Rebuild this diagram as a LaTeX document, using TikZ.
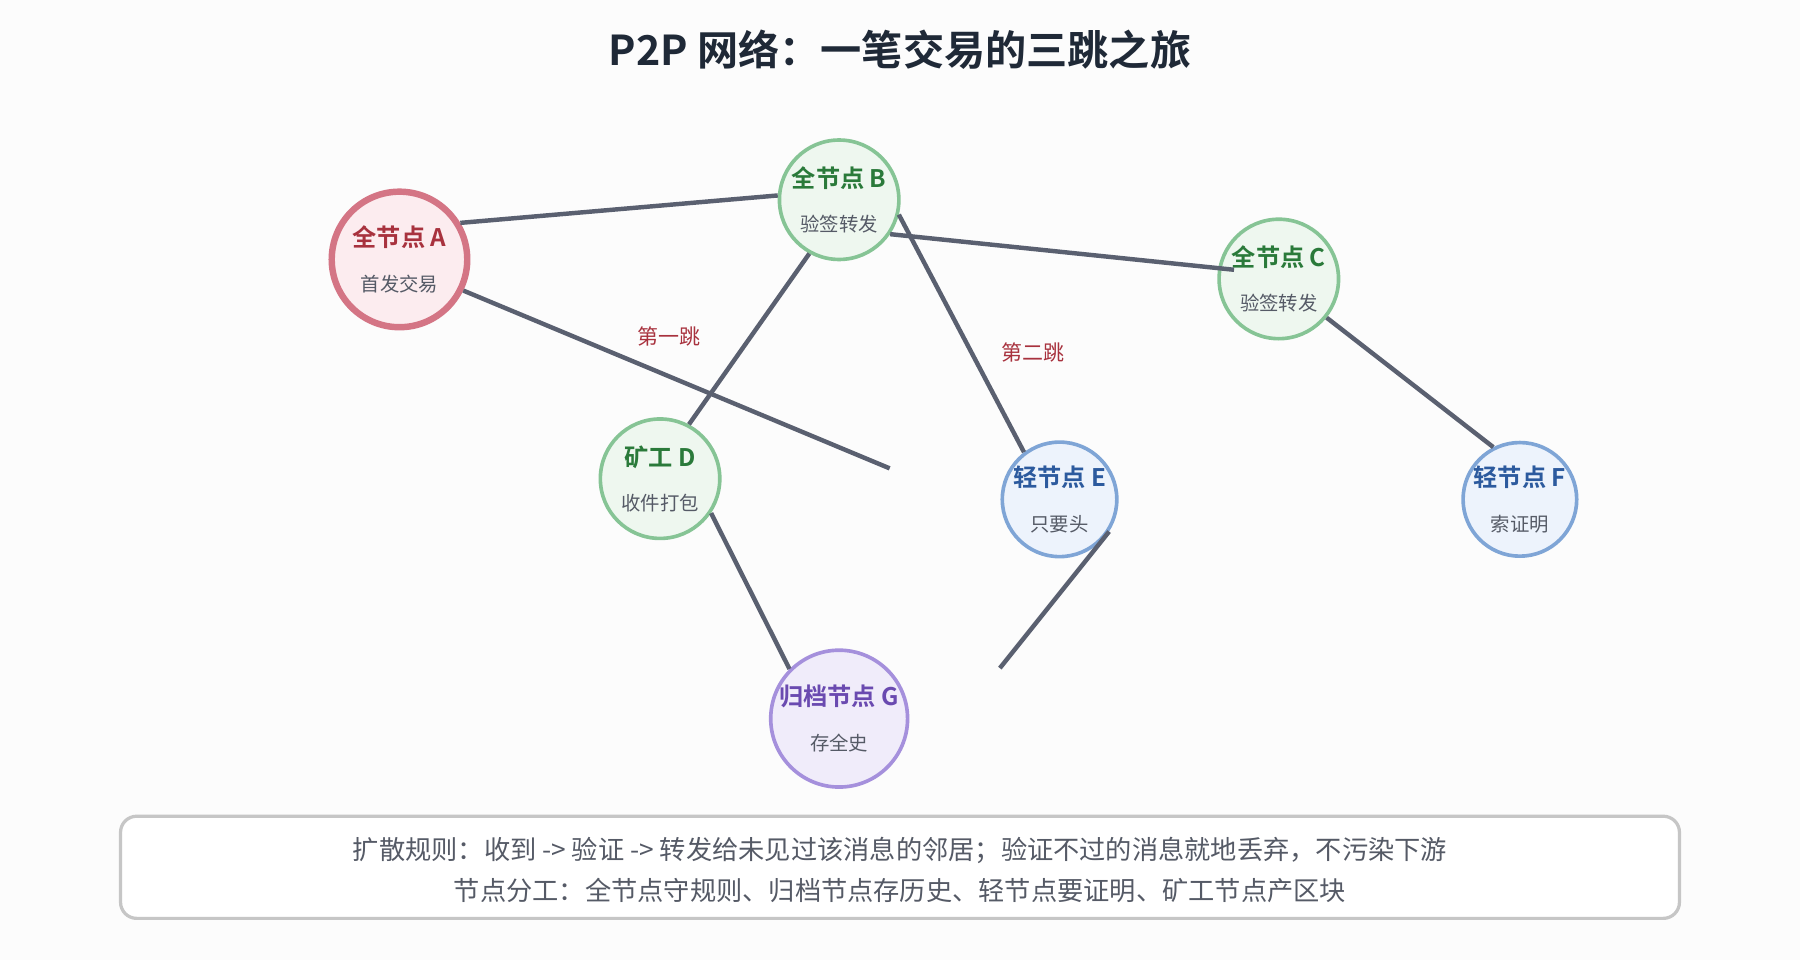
\documentclass[tikz,border=0pt]{standalone}
\usepackage{fontspec}
\setmainfont{Noto Sans CJK SC}[BoldFont={Noto Sans CJK SC Bold}]
\definecolor{edgec}{HTML}{5A6070}
\definecolor{redc}{HTML}{A8323E}
\definecolor{greenc}{HTML}{2A7A3A}
\definecolor{bluec}{HTML}{2C5A9E}
\definecolor{purplec}{HTML}{6A4AB0}
\definecolor{subc}{HTML}{555A66}
\definecolor{redline}{HTML}{D47585}
\definecolor{redfill}{HTML}{FCECEF}
\definecolor{greenline}{HTML}{86C495}
\definecolor{greenfill}{HTML}{EEF7EF}
\definecolor{blueline}{HTML}{7FA5D6}
\definecolor{bluefill}{HTML}{EDF3FC}
\definecolor{purpleline}{HTML}{A590DC}
\definecolor{purplefill}{HTML}{F0ECFA}
\definecolor{titlec}{HTML}{1F2937}
\tikzset{
  peer/.style={circle, inner sep=0pt, align=center, line width=0.9pt},
  fullpeer/.style={peer, draw=greenline, fill=greenfill, minimum size=1.04cm},
  lightpeer/.style={peer, draw=blueline, fill=bluefill, minimum size=0.9cm},
  link/.style={draw=edgec, line width=1.1pt},
  hop/.style={text=redc, font=\fontsize{5.2}{6}\selectfont}
}
\newcommand{\peerlabel}[3]{{\color{#1}\bfseries\fontsize{6}{7}\selectfont #2}\\[-1pt]{\color{subc}\fontsize{4.8}{6}\selectfont #3}}
\begin{document}
\begin{tikzpicture}[x=0.01cm, y=-0.01cm]
\fill[white!98!gray] (0,0) rectangle (1568,836);
\useasboundingbox (0,0) rectangle (1568,836);

\node[font=\bfseries\fontsize{10.2}{12}\selectfont, text=titlec] (title) at (784,43) {P2P 网络：一笔交易的三跳之旅};

% peers
\node[peer, draw=redline, fill=redfill, line width=1.6pt, minimum size=1.18cm] (A) at (348,226) {\peerlabel{redc}{全节点 A}{首发交易}};
\node[fullpeer] (B) at (731,174) {\peerlabel{greenc}{全节点 B}{验签转发}};
\node[fullpeer] (C) at (1114,243) {\peerlabel{greenc}{全节点 C}{验签转发}};
\node[fullpeer] (D) at (575,417) {\peerlabel{greenc}{矿工 D}{收件打包}};
\node[lightpeer] (E) at (923,435) {\peerlabel{bluec}{轻节点 E}{只要头}};
\node[lightpeer] (F) at (1324,435) {\peerlabel{bluec}{轻节点 F}{索证明}};
\node[peer, draw=purpleline, fill=purplefill, minimum size=1.18cm] (G) at (731,626) {\peerlabel{purplec}{归档节点 G}{存全史}};

\coordinate (endA) at (775,408);
\coordinate (endE) at (871,582);
\coordinate (inC) at (1075,235);

% links
\draw[link] (A.31) -- (B.176);
\draw[link] (B.-34) -- (inC);
\draw[link] (A.-26) -- (endA);
\draw[link] (B.-119) -- (D.62);
\draw[link] (B.-14) -- (E.127);
\draw[link] (C.-39) -- (F.117);
\draw[link] (D.-34) -- (G.135);
\draw[link] (E.-33) -- (endE);

\node[hop] (hop1) at (583,293) {第一跳};
\node[hop] (hop2) at (900,307) {第二跳};

% rules box
\draw[draw=gray!45, line width=0.8pt, rounded corners=4pt, fill=white] (105,711) rectangle (1463,800);
\node[text=subc, font=\fontsize{6.5}{10}\selectfont, align=center] (rules) at (784,758)
  {扩散规则：收到 -> 验证 -> 转发给未见过该消息的邻居；验证不过的消息就地丢弃，不污染下游\\节点分工：全节点守规则、归档节点存历史、轻节点要证明、矿工节点产区块};
\end{tikzpicture}
\end{document}
